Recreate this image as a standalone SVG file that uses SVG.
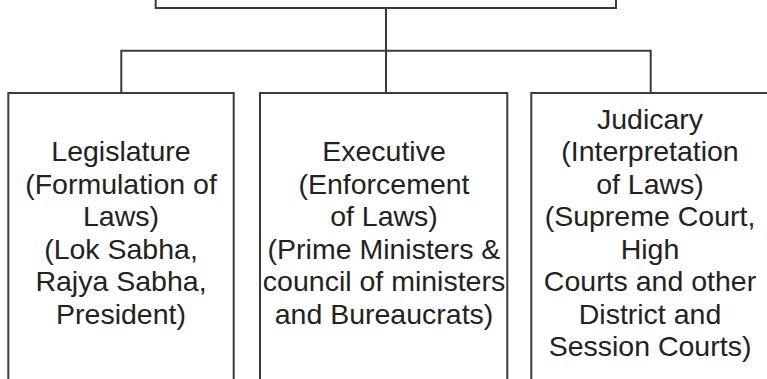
<svg xmlns="http://www.w3.org/2000/svg" width="767" height="379" viewBox="0 0 767 379">
<style>
.box{fill:#fff;stroke:#3a3a3a;stroke-width:2}
.conn{fill:none;stroke:#3a3a3a;stroke-width:2}
.t{font-family:"Liberation Sans",Arial,sans-serif;font-size:28.5px;fill:#222;text-anchor:middle}
</style>
<rect width="767" height="379" fill="#fff"/>
<g id="connectors">
<path class="conn" d="M386 8 V92.5 M121.3 92.5 V50.7 H650.7 V92.5"/>
</g>
<g id="top">
<rect class="box" x="155.7" y="-40" width="460.3" height="48"/>
</g>
<g id="legislature">
<rect class="box" x="8.3" y="93" width="225.4" height="320"/>
<text class="t"><tspan x="121" y="161">Legislature</tspan><tspan x="121" y="193.5">(Formulation of</tspan><tspan x="121" y="226">Laws)</tspan><tspan x="121" y="258.5">(Lok Sabha,</tspan><tspan x="121" y="291">Rajya Sabha,</tspan><tspan x="121" y="323.5">President)</tspan></text>
</g>
<g id="executive">
<rect class="box" x="260" y="93" width="247.3" height="320"/>
<text class="t"><tspan x="384" y="161">Executive</tspan><tspan x="384" y="193.5">(Enforcement</tspan><tspan x="384" y="226">of Laws)</tspan><tspan x="384" y="258.5">(Prime Ministers &amp;</tspan><tspan x="384" y="291">council of ministers</tspan><tspan x="384" y="323.5">and Bureaucrats)</tspan></text>
</g>
<g id="judicary">
<rect class="box" x="531.3" y="93" width="239" height="320"/>
<text class="t"><tspan x="650" y="128.5">Judicary</tspan><tspan x="650" y="161">(Interpretation</tspan><tspan x="650" y="193.5">of Laws)</tspan><tspan x="650" y="226">(Supreme Court,</tspan><tspan x="650" y="258.5">High</tspan><tspan x="650" y="291">Courts and other</tspan><tspan x="650" y="323.5">District and</tspan><tspan x="650" y="356">Session Courts)</tspan></text>
</g>
</svg>
